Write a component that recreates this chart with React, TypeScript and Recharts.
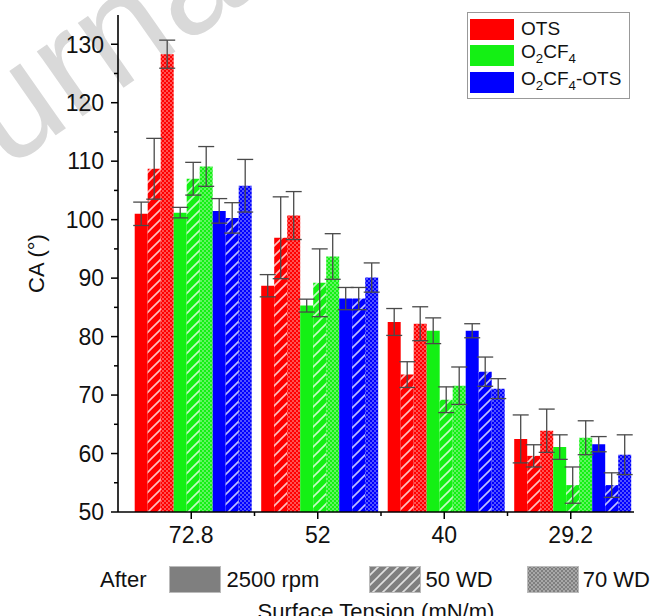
import React from "react";
import { BarChart, Bar, XAxis, YAxis, ErrorBar, Legend } from "recharts";

const categories = ["72.8", "52", "40", "29.2"];

// contact angle (deg) per surface tension, OTS coating
const otsRpm = [101.0, 88.7, 82.5, 62.5];
const otsRpmErr = [2.0, 1.9, 2.3, 4.1];
const ots50 = [108.7, 96.9, 73.5, 59.6];
const ots50Err = [5.2, 7.0, 2.2, 1.9];
const ots70 = [128.3, 100.7, 82.2, 63.9];
const ots70Err = [2.4, 4.1, 2.9, 3.7];

// O2CF4 coating
const cfRpm = [101.2, 85.3, 81.0, 61.1];
const cfRpmErr = [0.9, 1.1, 2.2, 2.1];
const cf50 = [107.0, 89.2, 69.2, 54.6];
const cf50Err = [2.8, 5.8, 2.2, 3.1];
const cf70 = [109.1, 93.7, 71.6, 62.7];
const cf70Err = [3.4, 3.9, 3.2, 2.9];

// O2CF4-OTS coating
const mixRpm = [101.5, 86.5, 81.0, 61.6];
const mixRpmErr = [2.1, 1.9, 1.2, 1.3];
const mix50 = [100.3, 86.5, 74.0, 54.6];
const mix50Err = [2.6, 1.9, 2.5, 2.1];
const mix70 = [105.8, 90.1, 71.1, 59.8];
const mix70Err = [4.5, 2.5, 1.7, 3.4];

const yTicks = [50, 55, 60, 65, 70, 75, 80, 85, 90, 95, 100, 105, 110, 115, 120, 125, 130];

const FONT = "'Liberation Sans', Arial, sans-serif";

const groups = [
  { id: "ots", color: "#ff0000", label: <>OTS</> },
  {
    id: "cf",
    color: "#14f014",
    label: (
      <>
        O<sub style={{ fontSize: "0.7em" }}>2</sub>CF<sub style={{ fontSize: "0.7em" }}>4</sub>
      </>
    ),
  },
  {
    id: "mix",
    color: "#0000ff",
    label: (
      <>
        O<sub style={{ fontSize: "0.7em" }}>2</sub>CF<sub style={{ fontSize: "0.7em" }}>4</sub>-OTS
      </>
    ),
  },
];

const data = categories.map((name, i) => ({
  name,
  otsRpm: otsRpm[i], otsRpmErr: otsRpmErr[i],
  ots50: ots50[i], ots50Err: ots50Err[i],
  ots70: ots70[i], ots70Err: ots70Err[i],
  cfRpm: cfRpm[i], cfRpmErr: cfRpmErr[i],
  cf50: cf50[i], cf50Err: cf50Err[i],
  cf70: cf70[i], cf70Err: cf70Err[i],
  mixRpm: mixRpm[i], mixRpmErr: mixRpmErr[i],
  mix50: mix50[i], mix50Err: mix50Err[i],
  mix70: mix70[i], mix70Err: mix70Err[i],
}));

const treatments = [
  { suffix: "Rpm", fill: (id: string, c: string) => c },
  { suffix: "50", fill: (id: string) => `url(#hatch-${id})` },
  { suffix: "70", fill: (id: string) => `url(#dots-${id})` },
];

function PatternDefs({ id, color }: { id: string; color: string }) {
  return (
    <>
      <pattern id={`hatch-${id}`} width="10" height="10" patternUnits="userSpaceOnUse">
        <rect width="10" height="10" fill={color} />
        <path
          d="M0,10 L10,0 M-2.5,2.5 L2.5,-2.5 M7.5,12.5 L12.5,7.5"
          stroke="#fff"
          strokeOpacity={0.75}
          strokeWidth={1.6}
        />
      </pattern>
      <pattern id={`dots-${id}`} width="4" height="4" patternUnits="userSpaceOnUse">
        <rect width="4" height="4" fill={color} />
        <rect width="2" height="2" fill="#fff" fillOpacity={0.32} />
        <rect x="2" y="2" width="2" height="2" fill="#fff" fillOpacity={0.32} />
      </pattern>
    </>
  );
}

const YTick = (props: any) => {
  const { x, y, payload } = props;
  const ax = x + 14;
  const major = payload.value % 10 === 0;
  return (
    <g>
      <line x1={ax - (major ? 7 : 4)} x2={ax} y1={y} y2={y} stroke="#000" strokeWidth={1.5} />
      {major && (
        <text x={x} y={y} dy="0.36em" textAnchor="end" fontSize={23} fill="#111" fontFamily={FONT}>
          {payload.value}
        </text>
      )}
    </g>
  );
};

const XTick = (props: any) => {
  const { x, y, payload, index } = props;
  const ay = y - 15;
  const half = payload.offset || 0;
  return (
    <g>
      <line x1={x} x2={x} y1={ay} y2={ay + 7} stroke="#000" strokeWidth={1.5} />
      {index > 0 && (
        <line x1={x - half} x2={x - half} y1={ay} y2={ay + 4} stroke="#000" strokeWidth={1.5} />
      )}
      <text x={x} y={y} dy="0.71em" textAnchor="middle" fontSize={23} fill="#111" fontFamily={FONT}>
        {payload.value}
      </text>
    </g>
  );
};

const TopLegend = () => (
  <div
    style={{
      border: "1px solid #999",
      background: "#fff",
      width: 163,
      boxSizing: "border-box",
      padding: "3px 2px 2px 2px",
      fontFamily: FONT,
    }}
  >
    {groups.map((g) => (
      <div key={g.id} style={{ display: "flex", alignItems: "center", height: 26.5 }}>
        <span style={{ width: 44, height: 21, background: g.color, display: "inline-block" }} />
        <span style={{ marginLeft: 7, fontSize: 19, color: "#111", lineHeight: "20px" }}>{g.label}</span>
      </div>
    ))}
  </div>
);

const Swatch = ({ fill }: { fill: string }) => (
  <svg width={52} height={27} style={{ display: "block" }}>
    <rect x={0.5} y={0.5} width={51} height={26} fill={fill} stroke="#bbb" strokeWidth={1} />
  </svg>
);

export default function App() {
  return (
    <div style={{ position: "absolute", left: 0, top: 0, width: 653, height: 616, background: "#fff", overflow: "hidden" }}>
      <svg width={0} height={0} style={{ position: "absolute" }}>
        <defs>
          {groups.map((g) => (
            <PatternDefs key={g.id} id={g.id} color={g.color} />
          ))}
          <PatternDefs id="gray" color="#7f7f7f" />
        </defs>
      </svg>

      {/* faint watermark behind the chart */}
      <svg width={653} height={616} style={{ position: "absolute", left: 0, top: 0 }}>
        <text
          x={-124}
          y={261}
          transform="rotate(-35 -124 261)"
          fontSize={150}
          fontFamily={FONT}
          fill="#d9d9d9"
        >
          Journal Pre-proof
        </text>
      </svg>

      <div style={{ position: "absolute", left: 0, top: 0 }}>
        <BarChart
          width={653}
          height={616}
          data={data}
          margin={{ top: 15, right: 19, left: 0, bottom: 0 }}
          barCategoryGap="5.3%"
          barGap={0}
        >
          <XAxis
            dataKey="name"
            height={104}
            padding={{ left: 10, right: 0 }}
            axisLine={{ stroke: "#000", strokeWidth: 1.6 }}
            tickLine={false}
            tickSize={7}
            tickMargin={8}
            tick={XTick}
            interval={0}
            label={{
              value: "Surface Tension (mN/m)",
              position: "insideBottom",
              offset: -3,
              fontSize: 22,
              fill: "#111",
              fontFamily: FONT,
            }}
          />
          <YAxis
            width={118}
            domain={[50, 135]}
            allowDataOverflow
            ticks={yTicks}
            interval={0}
            axisLine={{ stroke: "#000", strokeWidth: 1.6 }}
            tickLine={false}
            tickSize={7}
            tickMargin={7}
            tick={YTick}
            label={{
              value: "CA (°)",
              angle: -90,
              position: "insideLeft",
              offset: 36,
              fontSize: 22,
              fill: "#111",
              fontFamily: FONT,
              style: { textAnchor: "middle" },
            }}
          />
          <Legend
            layout="vertical"
            align="center"
            verticalAlign="middle"
            wrapperStyle={{ left: 467, top: 12, width: 163 }}
            content={() => <TopLegend />}
          />
          {groups.map((g) =>
            treatments.map((t) => (
              <Bar
                key={g.id + t.suffix}
                dataKey={g.id + t.suffix}
                fill={t.fill(g.id, g.color)}
                isAnimationActive={false}
              >
                <ErrorBar
                  dataKey={g.id + t.suffix + "Err"}
                  direction="y"
                  width={8}
                  stroke="#4a4a4a"
                  strokeWidth={1.3}
                />
              </Bar>
            ))
          )}
        </BarChart>
      </div>

      <div
        style={{
          position: "absolute",
          left: 100,
          top: 566,
          display: "flex",
          alignItems: "center",
          fontFamily: FONT,
          fontSize: 22,
          color: "#111",
          height: 27,
        }}
      >
        <span style={{ marginRight: 23 }}>After</span>
        <Swatch fill="#7f7f7f" />
        <span style={{ marginLeft: 5, marginRight: 50 }}>2500 rpm</span>
        <Swatch fill="url(#hatch-gray)" />
        <span style={{ marginLeft: 4, marginRight: 34 }}>50 WD</span>
        <Swatch fill="url(#dots-gray)" />
        <span style={{ marginLeft: 4 }}>70 WD</span>
      </div>
    </div>
  );
}
